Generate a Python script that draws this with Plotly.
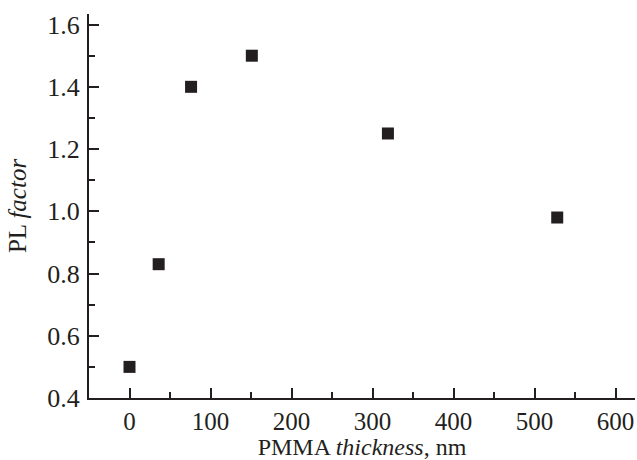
import plotly.graph_objects as go

thickness_nm = [0, 36, 76, 151, 319, 528]
pl_factor = [0.50, 0.83, 1.40, 1.50, 1.25, 0.98]

x_ticks = [0, 100, 200, 300, 400, 500, 600]
y_ticks = [0.4, 0.6, 0.8, 1.0, 1.2, 1.4, 1.6]
y_tick_labels = ["0.4", "0.6", "0.8", "1.0", "1.2", "1.4", "1.6"]

ink = "#231f20"
font = "'Liberation Serif', 'Times New Roman', Times, serif"

fig = go.Figure(go.Scatter(
    x=thickness_nm, y=pl_factor, mode="markers",
    marker=dict(symbol="square", size=12, color=ink, line=dict(width=0)),
))

fig.update_layout(
    width=637, height=460,
    margin=dict(l=89, r=2, t=14, b=62),
    paper_bgcolor="white", plot_bgcolor="white",
    showlegend=False,
    font=dict(family=font, size=25, color=ink),
)
fig.update_xaxes(
    range=[-50, 624], tickvals=x_ticks, ticktext=[str(v) for v in x_ticks],
    showline=True, linecolor=ink, linewidth=2, showgrid=False, zeroline=False,
    ticks="inside", ticklen=10, tickwidth=1.5, tickcolor=ink,
    minor=dict(dtick=50, tick0=0, ticks="inside", ticklen=6, tickwidth=1.5, tickcolor=ink, showgrid=False),
    title=dict(text="PMMA <i>thickness</i>, nm", font=dict(size=24), standoff=6),
    tickfont=dict(size=25),
)
fig.update_yaxes(
    range=[0.4, 1.634], tickvals=y_ticks, ticktext=y_tick_labels,
    showline=True, linecolor=ink, linewidth=2, showgrid=False, zeroline=False,
    ticks="inside", ticklen=10, tickwidth=1.5, tickcolor=ink,
    minor=dict(dtick=0.1, tick0=0.4, ticks="inside", ticklen=6, tickwidth=1.5, tickcolor=ink, showgrid=False),
    title=dict(text="PL <i>factor</i>", font=dict(size=25), standoff=14),
    tickfont=dict(size=26), ticklabelstandoff=2,
)

fig.write_html("out.html")
